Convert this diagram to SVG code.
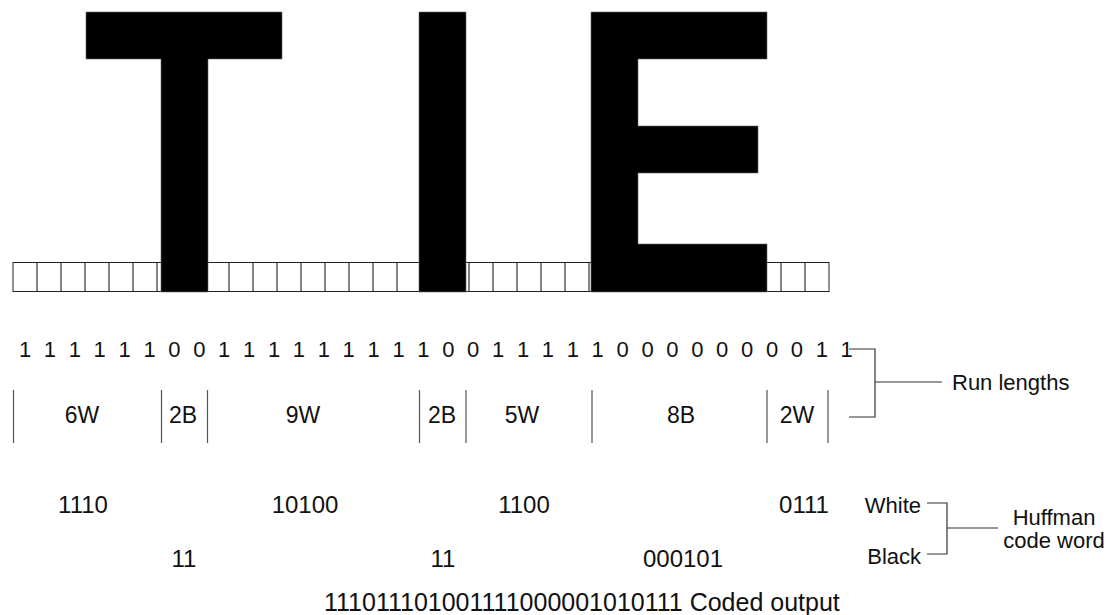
<svg xmlns="http://www.w3.org/2000/svg" width="1108" height="615" viewBox="0 0 1108 615">
<style>
text{font-family:"Liberation Sans",Arial,Helvetica,sans-serif;fill:#111}
.bits{font-size:22px;text-anchor:middle}
.run{font-size:23px;text-anchor:middle}
.code{font-size:24px;text-anchor:middle}
.lab{font-size:22px}
.out{font-size:25px}
.cell{fill:#fff;stroke:#222;stroke-width:1}
.ink{fill:#000;stroke:#666;stroke-width:0.6}
.ln{stroke:#333;stroke-width:1.2;fill:none}
.sep{stroke:#555;stroke-width:1.2;fill:none}
</style>
<rect width="1108" height="615" fill="#fff"/>
<g id="cells">
<rect class="cell" x="13" y="262.5" width="816" height="29"/>
<path class="ln" d="M37 262.5V291.5M61 262.5V291.5M85 262.5V291.5M109 262.5V291.5M133 262.5V291.5M157 262.5V291.5M181 262.5V291.5M205 262.5V291.5M229 262.5V291.5M253 262.5V291.5M277 262.5V291.5M301 262.5V291.5M325 262.5V291.5M349 262.5V291.5M373 262.5V291.5M397 262.5V291.5M421 262.5V291.5M445 262.5V291.5M469 262.5V291.5M493 262.5V291.5M517 262.5V291.5M541 262.5V291.5M565 262.5V291.5M589 262.5V291.5M613 262.5V291.5M637 262.5V291.5M661 262.5V291.5M685 262.5V291.5M709 262.5V291.5M733 262.5V291.5M757 262.5V291.5M781 262.5V291.5M805 262.5V291.5"/>
</g>
<g id="letter-T">
<path class="ink" d="M86 12H282V59H208V292H161V59H86Z"/>
</g>
<g id="letter-I">
<rect class="ink" x="419" y="12" width="47" height="280"/>
</g>
<g id="letter-E">
<path class="ink" d="M591 12H767V59H638V126H758V173H638V244H767V292H591Z"/>
</g>
<g id="bits">
<text class="bits" y="357" x="25 49.9 74.8 99.7 124.6 149.5 174.4 199.3 224.2 249.1 274 298.9 323.8 348.7 373.6 398.5 423.4 448.3 473.2 498.1 523 547.9 572.8 597.7 622.6 647.5 672.4 697.3 722.2 747.1 772 796.9 821.8 846.7">1111110011111111100111110000000011</text>
</g>
<g id="runs">
<path class="sep" d="M13.5 390V443M161.5 390V443M207.5 390V443M419.5 390V443M466 390V443M592 390V443M767 390V443M828 390V443"/>
<text class="run" x="82" y="423">6W</text>
<text class="run" x="183" y="423">2B</text>
<text class="run" x="303" y="423">9W</text>
<text class="run" x="442" y="423">2B</text>
<text class="run" x="522" y="423">5W</text>
<text class="run" x="681" y="423">8B</text>
<text class="run" x="797" y="423">2W</text>
</g>
<g id="codes">
<text class="code" x="83" y="513">1110</text>
<text class="code" x="305" y="513">10100</text>
<text class="code" x="524" y="513">1100</text>
<text class="code" x="804" y="513">0111</text>
<text class="code" x="184" y="567">11</text>
<text class="code" x="443" y="567">11</text>
<text class="code" x="683" y="567">000101</text>
</g>
<g id="connectors">
<path class="ln" d="M849 349H875V417H849M875 382H942"/>
<path class="ln" d="M927 503H947V554H927M947 528H998"/>
</g>
<g id="label-run-lengths">
<text class="lab" x="952" y="390">Run lengths</text>
</g>
<g id="label-white-black">
<text class="lab" x="921" y="513" text-anchor="end">White</text>
<text class="lab" x="921" y="564" text-anchor="end">Black</text>
</g>
<g id="label-huffman">
<text class="lab" x="1054" y="525" text-anchor="middle">Huffman</text>
<text class="lab" x="1054" y="548" text-anchor="middle">code word</text>
</g>
<g id="output">
<text class="out" x="324" y="611">111011101001111000001010111 Coded output</text>
</g>
</svg>
